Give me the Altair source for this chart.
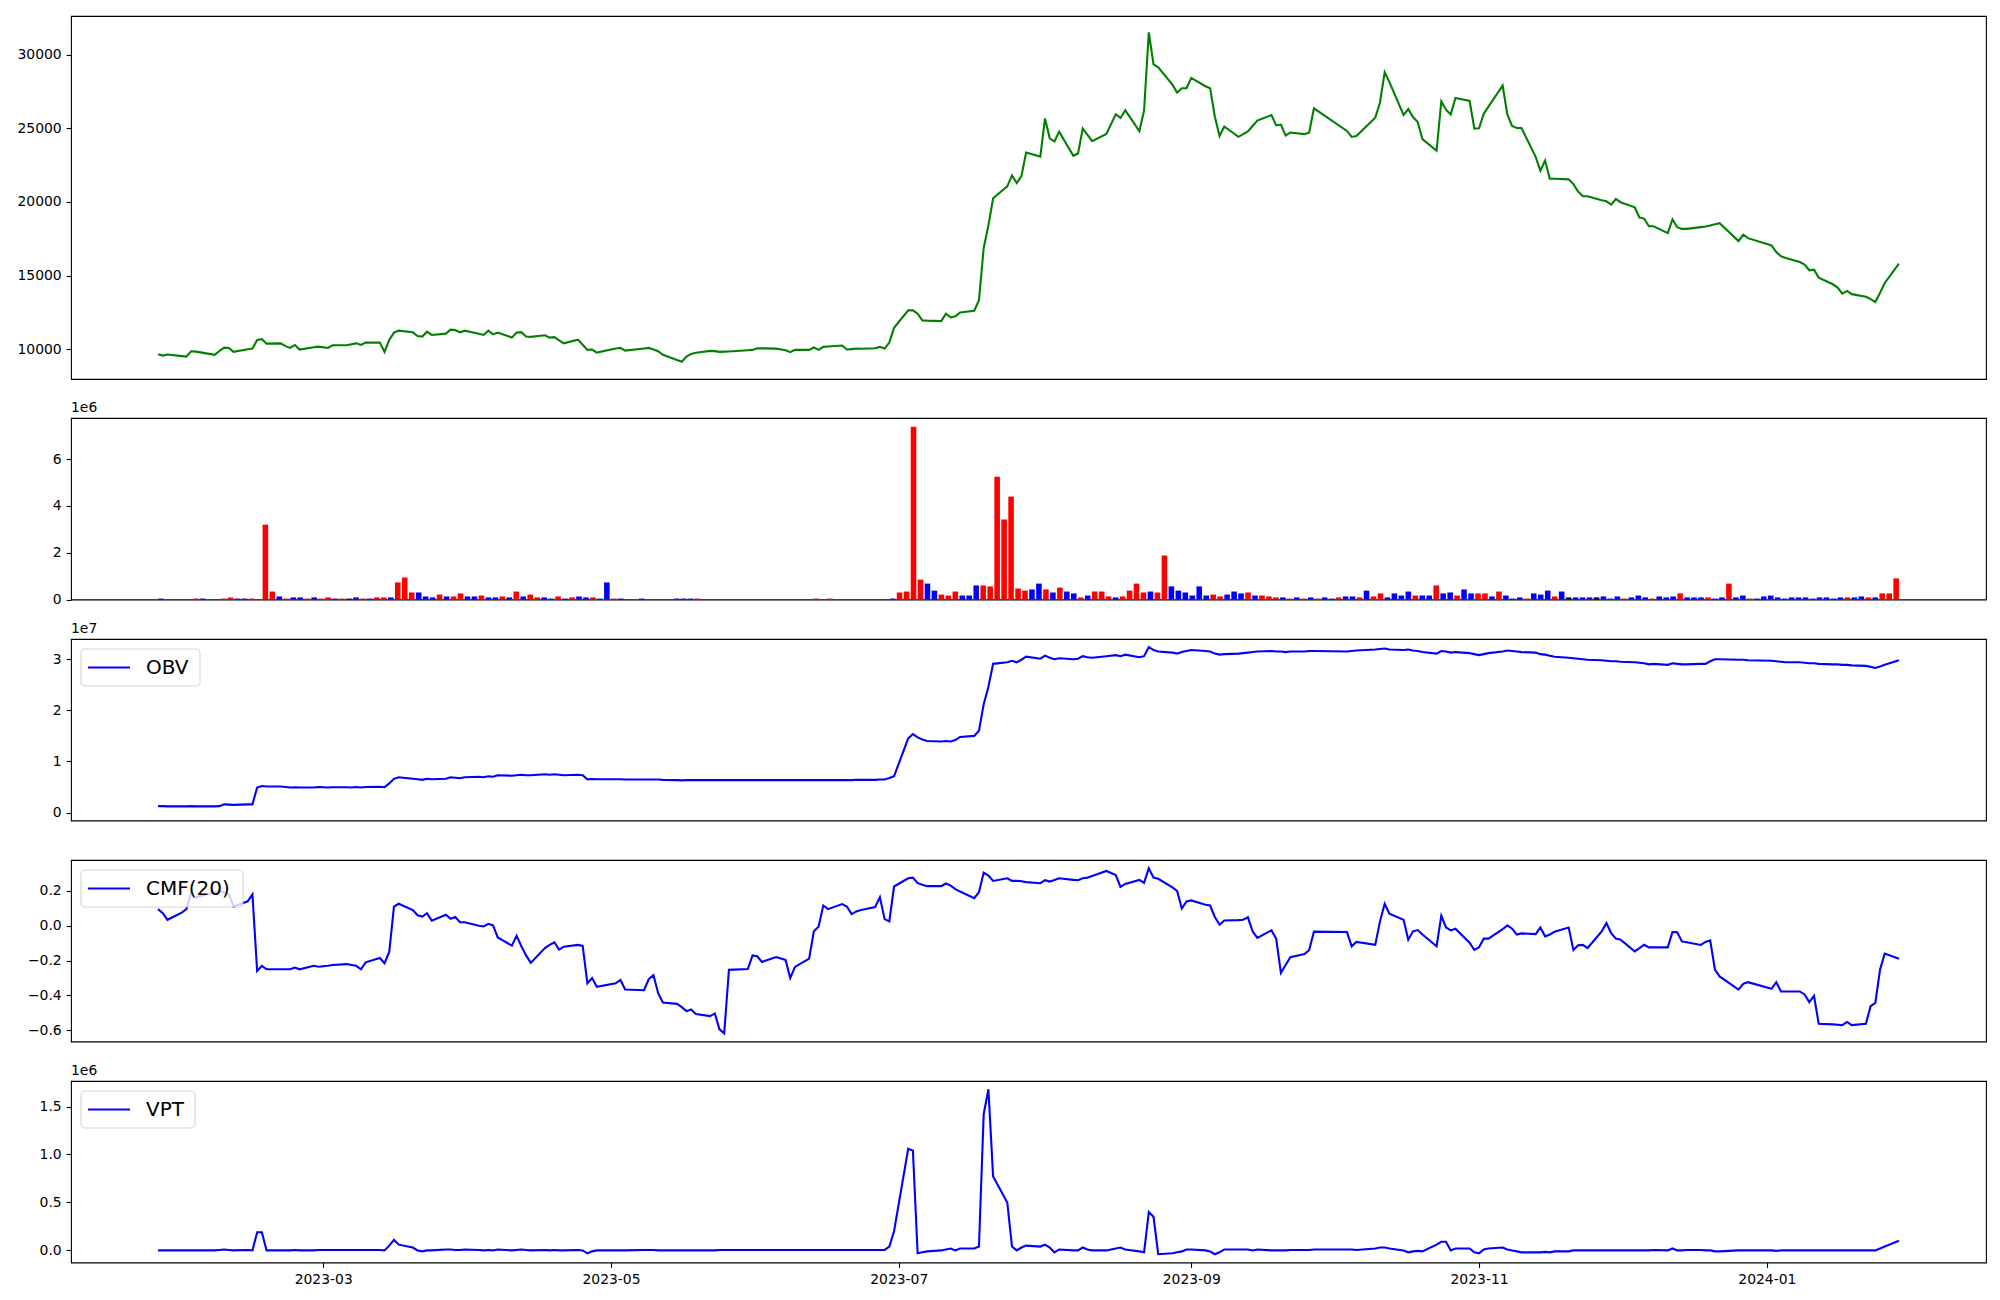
import altair as alt
import pandas as pd

# ---- trading calendar (KRX-style holidays) ----
holidays = ["2023-03-01", "2023-05-01", "2023-05-05", "2023-05-29", "2023-06-06", "2023-08-15",
            "2023-09-28", "2023-09-29", "2023-10-02", "2023-10-03", "2023-10-09", "2023-12-25",
            "2023-12-29", "2024-01-01"]
days = pd.bdate_range("2023-01-25", "2024-01-29")
days = days[~days.isin(pd.to_datetime(holidays))]
dates = [d.strftime("%Y-%m-%d") for d in days]

# ---- close price ----
price = [
    9660, 9570, 9640, 9530, 9500,
    9860, 9840, 9785, 9620, 9880, 10110, 10090, 9820, 9995, 10045, 10630, 10680, 10380, 10400, 10210, 10090, 10290, 9980, 10140, 10180,
    10090, 10270, 10270, 10340, 10400, 10290, 10450, 10450, 9820, 10630, 11130, 11260, 11150, 10900, 10860, 11190, 10970, 11060, 11330, 11300, 11150, 11260,
    11050, 10970, 11260, 11010, 11130, 10790, 11130, 11160, 10860, 10840, 10950, 10790, 10820, 10600, 10400, 10650, 10300, 9955, 9980, 9775,
    10045, 10090, 9910, 10050, 10090, 9980, 9865, 9620, 9270, 9145, 9500, 9685, 9760, 9890, 9870, 9820, 9840, 9845, 9930, 9955,
    10070, 10060, 10040, 9930, 9800, 9955, 9955, 10115, 9955, 10160, 10190, 10250, 9980, 10010, 10045, 10030, 10070, 10160, 10045, 10450, 11450,
    12640, 12640, 12410, 11960, 11940, 11910, 12410, 12160, 12230, 12500, 12610, 13330, 16860, 18400, 20250, 21060, 21800, 21280, 21750, 23350, 23080,
    25670, 24320, 24100, 24770, 23130, 23290, 24980, 24550, 24130, 24620, 25950, 25700, 26220, 24800, 26200, 31510, 29330, 29130, 27960, 27420, 27720, 27720,
    28420, 27850, 27720, 25780, 24470, 25120, 24420, 24600, 24780, 25150, 25520, 25900, 25200, 25250, 24510, 24710, 24600, 24710, 26350,
    24820, 24410, 24480, 25720, 26730, 28800, 28130, 25900, 26300, 25760, 25430, 24260, 23470, 26820, 26260, 25940, 27050, 26850, 24980,
    25000, 25990, 26470, 27900, 25940, 25160, 25020, 25020, 23060, 22120, 22810, 21580, 21570, 21530, 21210, 20700, 20380, 20380, 20110, 20040, 19820, 20200,
    19980, 19640, 18940, 18870, 18350, 18350, 17880, 18810, 18290, 18170, 18170, 18290, 18330, 18400, 18480, 18560, 17340, 17770, 17540,
    17050, 16600, 16310, 16190, 15920, 15740, 15360, 15400, 14860, 14410, 14190, 13780, 13960, 13740, 13560, 13400, 13200, 13830, 14500, 15810,
]

# ---- volume (millions) and bar colour code (r = up, b = down, k = flat) ----
volume = [
    0.04, 0, 0, 0, 0, 0.04, 0.04, 0, 0, 0.04,
    0.085, 0.04, 0.04, 0.04, 0, 3.20, 0.34, 0.13, 0.04, 0.09,
    0.09, 0.04, 0.09, 0.04, 0.09, 0.04, 0.04, 0.04, 0.09, 0.04,
    0.04, 0.09, 0.09, 0.09, 0.73, 0.94, 0.30, 0.30, 0.13, 0.09,
    0.21, 0.13, 0.13, 0.26, 0.13, 0.13, 0.17, 0.09, 0.09, 0.13,
    0.09, 0.34, 0.13, 0.21, 0.09, 0.09, 0.04, 0.13, 0.04, 0.09,
    0.13, 0.09, 0.09, 0.04, 0.73, 0.04, 0.04, 0, 0, 0.04,
    0, 0, 0, 0, 0.04, 0.04, 0.04, 0.04, 0, 0,
    0, 0, 0, 0, 0, 0, 0, 0, 0, 0,
    0, 0, 0, 0, 0.04, 0, 0.04, 0, 0, 0,
    0, 0, 0, 0, 0, 0.04, 0.30, 0.34, 7.39, 0.85,
    0.68, 0.38, 0.21, 0.17, 0.34, 0.17, 0.17, 0.60, 0.60, 0.56,
    5.25, 3.42, 4.40, 0.47, 0.38, 0.43, 0.68, 0.43, 0.30, 0.51,
    0.34, 0.26, 0.09, 0.17, 0.34, 0.34, 0.13, 0.09, 0.13, 0.38,
    0.68, 0.30, 0.34, 0.30, 1.88, 0.56, 0.38, 0.30, 0.17, 0.56,
    0.17, 0.21, 0.13, 0.21, 0.34, 0.26, 0.30, 0.17, 0.17, 0.13,
    0.09, 0.09, 0.04, 0.09, 0.04, 0.09, 0.04, 0.09, 0.04, 0.09,
    0.13, 0.13, 0.09, 0.38, 0.13, 0.26, 0.09, 0.26, 0.17, 0.34,
    0.17, 0.17, 0.17, 0.60, 0.26, 0.30, 0.17, 0.43, 0.26, 0.26,
    0.26, 0.13, 0.34, 0.17, 0.04, 0.09, 0.04, 0.26, 0.21, 0.38,
    0.13, 0.34, 0.09, 0.09, 0.09, 0.09, 0.09, 0.13, 0.04, 0.13,
    0.04, 0.09, 0.17, 0.09, 0.04, 0.13, 0.09, 0.13, 0.26, 0.09,
    0.09, 0.09, 0.09, 0.04, 0.09, 0.68, 0.09, 0.17, 0.04, 0.04,
    0.13, 0.17, 0.09, 0.04, 0.09, 0.09, 0.09, 0.04, 0.09, 0.09,
    0.04, 0.09, 0.09, 0.09, 0.13, 0.09, 0.09, 0.26, 0.26, 0.90,
]
bar_dir = [
    "b", "k", "k", "k", "k", "r", "b", "k", "k", "r",
    "r", "b", "b", "r", "k", "r", "r", "b", "r", "b",
    "b", "r", "b", "r", "r", "b", "r", "k", "b", "r",
    "b", "r", "r", "b", "r", "r", "r", "b", "b", "b",
    "r", "b", "r", "r", "b", "b", "r", "b", "b", "r",
    "b", "r", "b", "r", "r", "b", "b", "r", "b", "r",
    "b", "b", "r", "b", "b", "r", "b", "k", "k", "b",
    "k", "k", "k", "k", "b", "b", "b", "r", "k", "k",
    "k", "k", "k", "k", "k", "k", "k", "k", "k", "k",
    "k", "k", "k", "k", "r", "k", "r", "k", "k", "k",
    "k", "k", "k", "k", "k", "b", "r", "r", "r", "r",
    "b", "b", "r", "r", "r", "b", "b", "b", "r", "r",
    "r", "r", "r", "r", "r", "b", "b", "r", "b", "r",
    "b", "b", "r", "b", "r", "r", "r", "b", "r", "r",
    "r", "r", "b", "r", "r", "b", "b", "b", "b", "b",
    "b", "r", "r", "b", "b", "b", "r", "b", "r", "r",
    "r", "b", "r", "b", "r", "b", "r", "b", "b", "r",
    "b", "b", "r", "b", "r", "r", "b", "b", "b", "b",
    "r", "b", "b", "r", "b", "b", "r", "b", "b", "r",
    "r", "b", "r", "b", "b", "b", "r", "b", "b", "b",
    "r", "b", "k", "b", "b", "b", "k", "b", "b", "b",
    "r", "b", "b", "b", "r", "b", "b", "b", "r", "b",
    "b", "b", "r", "b", "b", "r", "b", "b", "r", "b",
    "b", "b", "b", "b", "b", "b", "b", "b", "b", "b",
    "b", "b", "r", "b", "b", "r", "b", "r", "r", "r",
]

# ---- OBV (millions) ----
obv = [
    1.25, 1.25, 1.2, 1.2, 1.2,
    1.25, 1.2, 1.2, 1.2, 1.25, 1.6, 1.55, 1.5, 1.6, 1.6, 4.9, 5.2, 5.1, 5.1, 5.0, 4.9, 4.95, 4.9, 4.9, 5.0,
    4.9, 4.95, 4.95, 4.9, 5.0, 4.9, 5.0, 5.05, 4.95, 5.7, 6.6, 6.9, 6.6, 6.5, 6.4, 6.6, 6.5, 6.6, 6.9, 6.8, 6.7, 6.9,
    7.0, 6.9, 7.1, 7.0, 7.3, 7.2, 7.3, 7.4, 7.3, 7.3, 7.5, 7.4, 7.5, 7.4, 7.3, 7.4, 7.3, 6.5, 6.55, 6.5,
    6.5, 6.5, 6.45, 6.45, 6.45, 6.45, 6.45, 6.4, 6.35, 6.3, 6.35, 6.35, 6.35, 6.35, 6.35, 6.35, 6.35, 6.35, 6.35, 6.35,
    6.35, 6.35, 6.35, 6.35, 6.35, 6.35, 6.35, 6.35, 6.35, 6.35, 6.35, 6.35, 6.35, 6.35, 6.4, 6.4, 6.4, 6.45, 6.45, 6.75, 7.1,
    14.5, 15.35, 14.7, 14.3, 14.0, 13.9, 14.0, 13.9, 14.2, 14.8, 15.0, 16.0, 21.2, 24.6, 29.1, 29.4, 29.7, 29.4, 29.9, 30.5, 30.1,
    30.7, 30.3, 30.0, 30.2, 30.0, 30.1, 30.6, 30.4, 30.3, 30.6, 30.8, 30.6, 30.9, 30.4, 30.6, 32.4, 31.8, 31.5, 31.3, 31.1, 31.4, 31.6,
    31.8, 31.6, 31.5, 31.1, 30.9, 31.0, 31.1, 31.2, 31.3, 31.4, 31.5, 31.6, 31.5, 31.5, 31.4, 31.5, 31.5, 31.6, 31.6,
    31.5, 31.6, 31.7, 31.9, 32.0, 32.1, 31.9, 31.8, 31.9, 31.7, 31.6, 31.4, 31.1, 31.6, 31.5, 31.3, 31.4, 31.2, 31.0,
    30.8, 31.0, 31.2, 31.5, 31.7, 31.6, 31.5, 31.4, 31.3, 31.0, 30.9, 30.7, 30.5, 30.3, 30.2, 30.1, 30.0, 29.9, 29.8, 29.7, 29.6, 29.6,
    29.5, 29.4, 29.3, 29.2, 29.0, 29.1, 28.9, 29.2, 29.1, 29.0, 29.0, 29.1, 29.1, 29.6, 30.0, 30.0, 29.9, 29.9, 29.8,
    29.7, 29.6, 29.5, 29.4, 29.4, 29.3, 29.2, 29.2, 29.1, 29.0, 29.0, 28.9, 28.9, 28.8, 28.7, 28.5, 28.3, 28.6, 28.9, 29.8,
]

# ---- CMF(20) ----
cmf = [
    0.095, 0.072, 0.034, 0.075, 0.095,
    0.19, 0.16, 0.17, 0.19, 0.2, 0.19, 0.18, 0.11, 0.14, 0.18, -0.26, -0.23, -0.25, -0.25, -0.25, -0.25, -0.24, -0.25, -0.23, -0.235,
    -0.23, -0.225, -0.22, -0.225, -0.23, -0.25, -0.21, -0.185, -0.215, -0.15, 0.11, 0.126, 0.09, 0.06, 0.053, 0.072, 0.029, 0.063, 0.04, 0.05, 0.02, 0.02,
    0.0, -0.004, 0.011, 0.002, -0.067, -0.114, -0.057, -0.118, -0.17, -0.213, -0.128, -0.11, -0.095, -0.137, -0.12, -0.11, -0.116, -0.33, -0.30, -0.35,
    -0.33, -0.31, -0.366, -0.37, -0.307, -0.284, -0.387, -0.44, -0.448, -0.467, -0.49, -0.48, -0.507, -0.518, -0.503, -0.594, -0.617, -0.253, -0.248, -0.17,
    -0.175, -0.208, -0.18, -0.196, -0.30, -0.236, -0.189, -0.032, -0.006, 0.116, 0.095, 0.124, 0.11, 0.067, 0.082, 0.09, 0.107, 0.164, 0.038, 0.025, 0.225,
    0.272, 0.276, 0.244, 0.235, 0.227, 0.227, 0.242, 0.23, 0.21, 0.196, 0.158, 0.192, 0.305, 0.288, 0.257, 0.272, 0.257, 0.257, 0.255, 0.25, 0.244,
    0.261, 0.253, 0.262, 0.272, 0.263, 0.261, 0.272, 0.276, 0.285, 0.314, 0.291, 0.223, 0.24, 0.263, 0.246, 0.33, 0.276, 0.269, 0.22, 0.2, 0.099, 0.139,
    0.145, 0.12, 0.116, 0.05, 0.006, 0.03, 0.032, 0.034, 0.048, -0.032, -0.07, -0.027, -0.074, -0.27, -0.225, -0.181, -0.162, -0.139, -0.034,
    -0.036, -0.118, -0.093, -0.11, 0.025, 0.126, 0.069, 0.034, -0.08, -0.032, -0.025, -0.05, -0.118, 0.057, -0.01, -0.027, -0.017, -0.097, -0.139,
    -0.124, -0.074, -0.074, -0.02, 0.002, -0.017, -0.051, -0.044, -0.048, -0.01, -0.061, -0.05, -0.035, -0.01, -0.139, -0.112, -0.11, -0.128, -0.032, 0.015, -0.042, -0.074,
    -0.08, -0.147, -0.128, -0.109, -0.124, -0.124, -0.124, -0.036, -0.038, -0.09, -0.095, -0.11, -0.093, -0.084, -0.251, -0.291, -0.366, -0.333, -0.324,
    -0.362, -0.324, -0.377, -0.377, -0.377, -0.394, -0.438, -0.402, -0.562, -0.566, -0.568, -0.57, -0.552, -0.57, -0.562, -0.461, -0.442, -0.251, -0.16, -0.189,
]

# ---- VPT (millions) ----
vpt = [
    0.0, 0.0, 0.0, 0.0, 0.0,
    0.0, 0.0, 0.0, 0.0, 0.005, 0.01, 0.005, 0.0, 0.005, 0.0, 0.19, 0.19, 0.0, 0.0, 0.0, 0.0, 0.005, 0.0, 0.0, 0.005,
    0.005, 0.005, 0.005, 0.005, 0.005, 0.005, 0.005, 0.005, 0.0, 0.05, 0.11, 0.06, 0.03, 0.0, -0.01, 0.0, 0.0, 0.01, 0.01, 0.005, 0.005, 0.01,
    0.005, 0.0, 0.005, 0.0, 0.01, 0.0, 0.005, 0.01, 0.005, 0.0, 0.005, 0.0, 0.005, 0.0, 0.0, 0.005, 0.0, -0.03, -0.01, 0.0,
    0.0, 0.0, 0.0, 0.005, 0.005, 0.005, 0.0, 0.0, 0.0, 0.0, 0.0, 0.0, 0.0, 0.0, 0.0, 0.005, 0.005, 0.005, 0.005, 0.005,
    0.005, 0.005, 0.005, 0.005, 0.005, 0.005, 0.005, 0.005, 0.005, 0.005, 0.005, 0.005, 0.005, 0.005, 0.005, 0.005, 0.005, 0.005, 0.005, 0.04, 0.2,
    1.06, 1.04, -0.03, -0.02, -0.01, 0.0, 0.01, 0.02, 0.0, 0.02, 0.02, 0.04, 1.42, 1.68, 0.77, 0.5, 0.04, 0.0, 0.03, 0.05, 0.04,
    0.06, 0.03, -0.02, 0.01, 0.0, 0.0, 0.03, 0.01, 0.0, 0.0, 0.02, 0.03, 0.01, -0.01, -0.02, 0.4, 0.35, -0.04, -0.03, -0.02, -0.01, 0.01,
    0.01, 0.0, -0.01, -0.04, -0.02, 0.01, 0.01, 0.01, 0.01, 0.0, 0.01, 0.0, 0.0, 0.0, 0.0, 0.005, 0.005, 0.005, 0.01,
    0.01, 0.01, 0.005, 0.02, 0.03, 0.03, 0.02, 0.0, -0.02, -0.01, -0.005, -0.01, 0.06, 0.09, 0.09, 0.0, 0.02, 0.02, -0.02,
    -0.03, 0.01, 0.02, 0.03, 0.01, 0.0, -0.01, -0.02, -0.02, -0.02, -0.015, -0.02, -0.01, -0.01, 0.0, 0.0, 0.0, 0.0, 0.0, 0.0, 0.0, 0.0,
    0.0, 0.0, 0.0, 0.0, 0.0, 0.005, 0.0, 0.02, 0.0, 0.0, 0.005, 0.005, 0.0, 0.0, -0.01, -0.01, 0.0, 0.0, 0.0,
    0.0, -0.005, 0.0, 0.0, 0.0, 0.0, 0.0, 0.0, 0.0, 0.0, 0.0, 0.0, 0.0, 0.0, 0.0, 0.0, 0.0, 0.02, 0.04, 0.10,
]

n = min(len(dates), len(price), len(obv), len(cmf), len(vpt))
df = pd.DataFrame({
    "date": dates[:n], "price": price[:n], "obv": [v / 10 for v in obv[:n]],
    "cmf": cmf[:n], "vpt": vpt[:n],
})
nb = min(len(volume), len(bar_dir))
vdf = pd.DataFrame({"idx": list(range(nb)), "vol": volume[:nb], "c": bar_dir[:nb]})

FONT = "DejaVu Sans"
W = 1915
H1 = 363
H2 = 181.5
LINEW = 2.1

xdom = [alt.DateTime(year=2023, month=1, date=6, hours=13, utc=True),
        alt.DateTime(year=2024, month=2, date=16, hours=11, utc=True)]
xscale = alt.Scale(type="utc", domain=xdom)
minus_fmt = "replace(format(datum.value, '.1f'), '-', '\u2212')"


def offset_text(label):
    t = pd.DataFrame({"t": [label]})
    return alt.Chart(t).mark_text(align="left", baseline="bottom", fontSize=13.9, font=FONT,
                                  color="black").encode(x=alt.value(0), y=alt.value(-3), text="t:N")


def legend(label, box_right):
    lg = pd.DataFrame({"t": [label]})
    box = alt.Chart(lg).mark_rect(fill="white", fillOpacity=0.8, stroke="#cccccc", strokeOpacity=0.8,
                                  strokeWidth=1.1, cornerRadius=4).encode(
        x=alt.value(10), x2=alt.value(box_right), y=alt.value(10), y2=alt.value(47))
    line = alt.Chart(lg).mark_rule(color="#0000ff", strokeWidth=LINEW).encode(
        x=alt.value(17), x2=alt.value(59), y=alt.value(28.5))
    txt = alt.Chart(lg).mark_text(align="left", baseline="middle", fontSize=20, font=FONT,
                                  color="black").encode(x=alt.value(75), y=alt.value(29), text="t:N")
    return [box, line, txt]


base = alt.Chart(df)

p_price = base.mark_line(color="#008000", strokeWidth=LINEW).encode(
    x=alt.X("date:T", scale=xscale, axis=None),
    y=alt.Y("price:Q", scale=alt.Scale(domain=[7980, 32620], nice=False, zero=False),
            axis=alt.Axis(values=[10000, 15000, 20000, 25000, 30000], format="d", title=None)),
).properties(width=W, height=H1)

p_vol_bars = alt.Chart(vdf).transform_filter("datum.vol > 0").transform_calculate(
    x0="datum.idx - 0.4", x1="datum.idx + 0.4"
).mark_rect().encode(
    x=alt.X("x0:Q", scale=alt.Scale(domain=[-12.89, 261.89], nice=False, zero=False), axis=None),
    x2="x1:Q",
    y=alt.Y("vol:Q", scale=alt.Scale(domain=[0, 7.76], nice=False),
            axis=alt.Axis(values=[0, 2, 4, 6], format="d", title=None)),
    y2=alt.datum(0),
    color=alt.Color("c:N", scale=alt.Scale(domain=["r", "b", "k"], range=["#ff0000", "#0000ff", "#000000"]),
                    legend=None),
)
p_vol = alt.layer(p_vol_bars, offset_text("1e6")).properties(width=W, height=H2)

p_obv_line = base.mark_line(color="#0000ff", strokeWidth=LINEW).encode(
    x=alt.X("date:T", scale=xscale, axis=None),
    y=alt.Y("obv:Q", scale=alt.Scale(domain=[-0.156, 3.396], nice=False, zero=False),
            axis=alt.Axis(values=[0, 1, 2, 3], format="d", title=None)),
)
p_obv = alt.layer(p_obv_line, offset_text("1e7"), *legend("OBV", 129)).properties(width=W, height=H2)

p_cmf_line = base.mark_line(color="#0000ff", strokeWidth=LINEW).encode(
    x=alt.X("date:T", scale=xscale, axis=None),
    y=alt.Y("cmf:Q", scale=alt.Scale(domain=[-0.664, 0.377], nice=False, zero=False),
            axis=alt.Axis(values=[-0.6, -0.4, -0.2, 0.0, 0.2], labelExpr=minus_fmt, title=None)),
)
p_cmf = alt.layer(p_cmf_line, *legend("CMF(20)", 172)).properties(width=W, height=H2)

xticks = [alt.DateTime(year=y, month=m, date=1, utc=True)
          for y, m in [(2023, 3), (2023, 5), (2023, 7), (2023, 9), (2023, 11), (2024, 1)]]
p_vpt_line = base.mark_line(color="#0000ff", strokeWidth=LINEW).encode(
    x=alt.X("date:T", scale=xscale,
            axis=alt.Axis(values=xticks, labelExpr="utcFormat(datum.value, '%Y-%m')", title=None,
                          labelFlush=False)),
    y=alt.Y("vpt:Q", scale=alt.Scale(domain=[-0.126, 1.766], nice=False, zero=False),
            axis=alt.Axis(values=[0.0, 0.5, 1.0, 1.5], labelExpr=minus_fmt, title=None)),
)
p_vpt = alt.layer(p_vpt_line, offset_text("1e6"), *legend("VPT", 124)).properties(width=W, height=H2)

chart = alt.vconcat(p_price, p_vol, p_obv, p_cmf, p_vpt, spacing=39, bounds="flush").properties(
    padding={"left": 8, "top": 7, "right": 5, "bottom": 5},
    background="white",
).configure(
    font=FONT
).configure_view(
    stroke="black", strokeWidth=1.1
).configure_axis(
    grid=False, domain=False, ticks=True, tickColor="black", tickSize=4.9, tickWidth=1.1,
    labelFont=FONT, labelFontSize=13.9, labelColor="black", labelPadding=4.9, labelOverlap=False,
)

chart.save("out.html", embed_options={"renderer": "svg", "actions": False})
